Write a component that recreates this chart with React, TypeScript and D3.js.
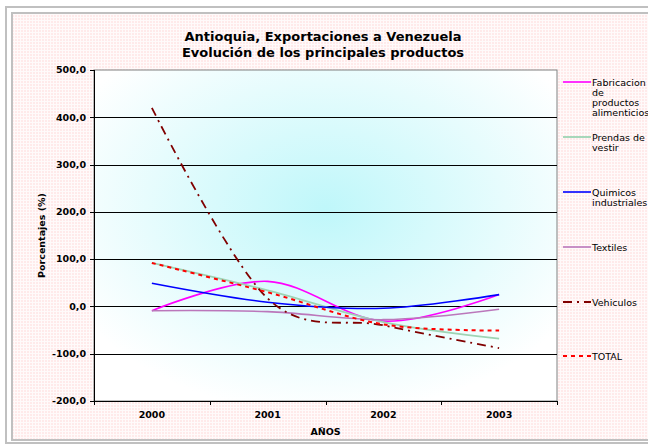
import * as d3 from "d3";
import React from "react";

// chart data (percent change per year)
const years = ["2000", "2001", "2002", "2003"];
const yTicks = [-200, -100, 0, 100, 200, 300, 400, 500];

const fabricacion = [-9, 53, -31, 25];
const prendas = [92, 34, -33, -68];
const quimicos = [49, 9, -4, 25];
const textiles = [-9, -11, -28, -6];
const vehiculos = [420, 17, -40, -88];
const total = [92, 30, -38, -51];

const seriesNames = [
  ["Fabricacion", "de", "productos", "alimenticios"],
  ["Prendas de", "vestir"],
  ["Quimicos", "industriales"],
  ["Textiles"],
  ["Vehiculos"],
  ["TOTAL"],
];

const W = 648;
const H = 444;
const margin = { top: 70, right: 91, bottom: 43, left: 94 };
const font = "'DejaVu Sans', Verdana, sans-serif";

const styles = [
  { color: "#ff00ff", width: 1.6, dash: "" },
  { color: "#9ed4b4", width: 1.8, dash: "" },
  { color: "#0000ff", width: 1.6, dash: "" },
  { color: "#bb77bb", width: 1.6, dash: "" },
  { color: "#800000", width: 1.8, dash: "9,5,2,5" },
  { color: "#ff0000", width: 2, dash: "4,4" },
];

const App: React.FC = () => {
  const series = [fabricacion, prendas, quimicos, textiles, vehiculos, total];
  const innerW = W - margin.left - margin.right;
  const innerH = H - margin.top - margin.bottom;

  const x = d3
    .scaleBand()
    .domain(years)
    .range([margin.left, margin.left + innerW]);
  const y = d3
    .scaleLinear()
    .domain([-200, 500])
    .range([margin.top + innerH, margin.top]);

  const line = d3
    .line<number>()
    .x((_, i) => x(years[i])! + x.bandwidth() / 2)
    .y((d) => y(d))
    .curve(d3.curveCardinal.tension(0));

  const fmt = (v: number) => v.toFixed(1).replace(".", ",");
  const legendY = [82, 137, 192, 247, 302, 356];

  return (
    <svg
      width={W}
      height={H}
      style={{ position: "absolute", left: 0, top: 0, display: "block" }}
      fontFamily={font}
    >
      <defs>
        <pattern id="pink" width="3" height="3" patternUnits="userSpaceOnUse">
          <rect width="3" height="3" fill="#fffafa" />
          <rect width="2" height="2" fill="#ffeaea" />
        </pattern>
        <radialGradient id="plotbg" cx="0.5" cy="0.42" r="0.62">
          <stop offset="0" stopColor="#bff7fa" />
          <stop offset="1" stopColor="#ffffff" />
        </radialGradient>
      </defs>
      <rect width={W} height={H} fill="#ffffff" />
      <rect x={6} y={7} width={W} height={436} fill="none" stroke="#c0c0c0" strokeWidth={2} />
      <rect x={12} y={13} width={W} height={427} fill="url(#pink)" stroke="#c0c0c0" strokeWidth={2} />

      {/* title */}
      <text x={323} y={41} textAnchor="middle" fontWeight="bold" fontSize={13}>
        Antioquia, Exportaciones a Venezuela
      </text>
      <text x={323} y={57} textAnchor="middle" fontWeight="bold" fontSize={13}>
        Evolución de los principales productos
      </text>

      {/* plot area */}
      <rect
        x={margin.left}
        y={margin.top}
        width={innerW}
        height={innerH}
        fill="url(#plotbg)"
        stroke="#808080"
        strokeWidth={1}
      />

      {/* gridlines */}
      {yTicks.slice(1, -1).map((t) => (
        <line
          key={t}
          x1={margin.left}
          x2={margin.left + innerW}
          y1={Math.round(y(t)) + 0.5}
          y2={Math.round(y(t)) + 0.5}
          stroke="#000"
          strokeWidth={1}
        />
      ))}

      {/* y axis */}
      <line
        x1={margin.left + 0.5}
        x2={margin.left + 0.5}
        y1={margin.top}
        y2={margin.top + innerH}
        stroke="#000"
      />
      {yTicks.map((t) => (
        <g key={t}>
          <line
            x1={margin.left - 4}
            x2={margin.left}
            y1={Math.round(y(t)) + 0.5}
            y2={Math.round(y(t)) + 0.5}
            stroke="#000"
          />
          <text
            x={margin.left - 8}
            y={y(t)}
            dy="0.35em"
            textAnchor="end"
            fontWeight="bold"
            fontSize={9.5}
          >
            {fmt(t)}
          </text>
        </g>
      ))}
      <text
        transform={`translate(45,${margin.top + innerH / 2}) rotate(-90)`}
        textAnchor="middle"
        fontWeight="bold"
        fontSize={9.5}
      >
        Porcentajes (%)
      </text>

      {/* x axis */}
      <line
        x1={margin.left}
        x2={margin.left + innerW}
        y1={margin.top + innerH + 0.5}
        y2={margin.top + innerH + 0.5}
        stroke="#000"
      />
      {[...years.map((yr) => x(yr)!), margin.left + innerW].map((px, i) => (
        <line
          key={i}
          x1={Math.round(px) + 0.5}
          x2={Math.round(px) + 0.5}
          y1={margin.top + innerH}
          y2={margin.top + innerH + 4}
          stroke="#000"
        />
      ))}
      {years.map((yr) => (
        <text
          key={yr}
          x={x(yr)! + x.bandwidth() / 2}
          y={418}
          textAnchor="middle"
          fontWeight="bold"
          fontSize={9.5}
        >
          {yr}
        </text>
      ))}
      <text x={margin.left + innerW / 2} y={435} textAnchor="middle" fontWeight="bold" fontSize={9.5}>
        AÑOS
      </text>

      {/* series */}
      {series.map((s, i) => (
        <path
          key={i}
          d={line(s) ?? ""}
          fill="none"
          stroke={styles[i].color}
          strokeWidth={styles[i].width}
          strokeDasharray={styles[i].dash}
        />
      ))}

      {/* legend */}
      {seriesNames.map((lines, i) => (
        <g key={i}>
          <line
            x1={563}
            x2={591}
            y1={legendY[i]}
            y2={legendY[i]}
            stroke={styles[i].color}
            strokeWidth={styles[i].width}
            strokeDasharray={styles[i].dash}
          />
          {lines.map((l, j) => (
            <text key={j} x={592} y={legendY[i] + 3.5 + j * 10} fontSize={9.5}>
              {l}
            </text>
          ))}
        </g>
      ))}
    </svg>
  );
};

export default App;
